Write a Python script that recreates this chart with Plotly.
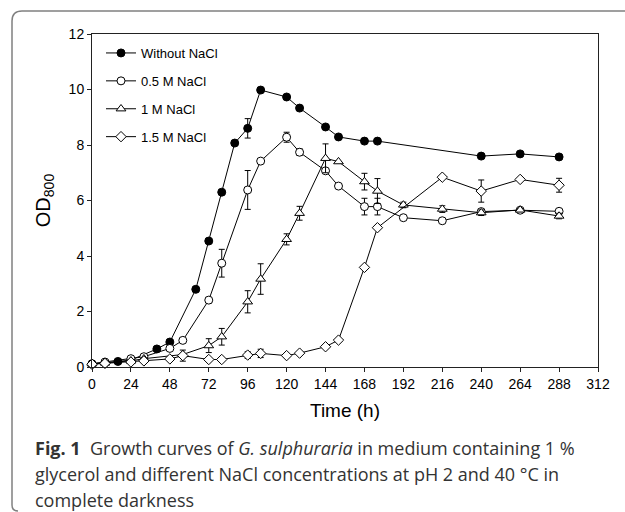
import plotly.graph_objects as go

# ---------------- data ----------------
t_ctrl = [0, 8, 16, 24, 40, 48, 64, 72, 80, 88, 96, 104, 120, 128, 144, 152, 168, 176, 240, 264, 288]
od_ctrl = [0.1, 0.15, 0.2, 0.25, 0.65, 0.9, 2.8, 4.54, 6.3, 8.07, 8.6, 9.98, 9.73, 9.33, 8.65, 8.29, 8.14, 8.14, 7.6, 7.68, 7.57]
err_ctrl = [0, 0, 0, 0, 0, 0, 0, 0, 0, 0, 0.35, 0, 0, 0, 0, 0, 0, 0, 0, 0, 0]

t_05 = [0, 8, 24, 32, 48, 56, 72, 80, 96, 104, 120, 128, 144, 152, 168, 176, 192, 216, 240, 264, 288]
od_05 = [0.12, 0.18, 0.3, 0.37, 0.67, 0.96, 2.41, 3.74, 6.38, 7.42, 8.28, 7.74, 7.07, 6.52, 5.78, 5.78, 5.38, 5.27, 5.6, 5.65, 5.61]
err_05 = [0, 0, 0, 0, 0, 0, 0.1, 0.5, 0.7, 0, 0.18, 0.12, 0, 0, 0.3, 0.3, 0, 0, 0, 0, 0]

t_1 = [0, 8, 24, 32, 56, 72, 80, 96, 104, 120, 128, 144, 152, 168, 176, 192, 216, 240, 264, 288]
od_1 = [0.12, 0.15, 0.22, 0.3, 0.45, 0.77, 1.09, 2.35, 3.17, 4.6, 5.54, 7.52, 7.4, 6.68, 6.34, 5.84, 5.69, 5.56, 5.66, 5.44]
err_1 = [0, 0, 0, 0, 0, 0.25, 0.3, 0.4, 0.55, 0.2, 0.25, 0.52, 0, 0.3, 0.45, 0.1, 0.12, 0.1, 0.05, 0.1]

t_15 = [0, 8, 24, 32, 48, 56, 72, 80, 96, 104, 120, 128, 144, 152, 168, 176, 216, 240, 264, 288]
od_15 = [0.1, 0.13, 0.18, 0.22, 0.29, 0.41, 0.27, 0.27, 0.43, 0.49, 0.41, 0.5, 0.73, 0.97, 3.59, 5.02, 6.84, 6.34, 6.76, 6.55]
err_15 = [0, 0, 0, 0, 0, 0.2, 0, 0, 0.12, 0.15, 0, 0, 0, 0, 0, 0, 0, 0.4, 0, 0.25]

series_names = ["Without NaCl", "0.5 M NaCl", "1 M NaCl", "1.5 M NaCl"]
x_ticks = list(range(0, 313, 24))
y_ticks = list(range(0, 13, 2))

# ---------------- figure ----------------
W, H = 625, 512
L, R, T, B = 92, 27, 34, 145

symbols = ["circle", "circle", "triangle-up", "diamond"]
fills = ["black", "white", "white", "white"]
sizes = [8, 8, 8.5, 8]

fig = go.Figure()
datasets = [(t_ctrl, od_ctrl, err_ctrl), (t_05, od_05, err_05), (t_1, od_1, err_1), (t_15, od_15, err_15)]
for i, ((tx, ty, te), name) in enumerate(zip(datasets, series_names)):
    fig.add_trace(go.Scatter(
        x=tx, y=ty, name=name, mode="lines+markers",
        legendgroup=name,
        line=dict(color="black", width=1),
        marker=dict(symbol=symbols[i], size=sizes[i], color=fills[i],
                    line=dict(color="black", width=1)),
        error_y=dict(type="data", array=te, visible=True, color="black", thickness=1, width=3),
        cliponaxis=False,
    ))

axis_common = dict(showline=True, linecolor="#222", linewidth=1, mirror=True,
                   ticks="outside", ticklen=4, tickcolor="#222", showgrid=False, zeroline=False,
                   tickfont=dict(family="Liberation Sans, Arial", size=14, color="black"))

fig.update_xaxes(range=[0, 312], tickvals=x_ticks,
                 title=dict(text="Time (h)", font=dict(family="Liberation Sans, Arial", size=19, color="black"), standoff=12),
                 **axis_common)
fig.update_yaxes(range=[0, 12], tickvals=y_ticks,
                 title=dict(text="OD<sub>800</sub>", font=dict(family="Liberation Sans, Arial", size=20, color="black"), standoff=12),
                 **axis_common)

def px(x):
    return (x - L) / (W - L - R)

def py(y):
    return (H - B - y) / (H - T - B)

# rounded border (open to the right, rounded at the bottom-left)
x0, y0, r = 12, 11, 10
yb = 511
path = (f"M {px(W + 5)},{py(y0)} L {px(x0 + r)},{py(y0)} "
        f"Q {px(x0)},{py(y0)} {px(x0)},{py(y0 + r)} L {px(x0)},{py(yb - 6)} "
        f"Q {px(x0)},{py(yb)} {px(x0 + 6)},{py(yb)}")
fig.add_shape(type="path", path=path, xref="paper", yref="paper",
              line=dict(color="#808080", width=1.5), layer="below")

cap_font = dict(family="Open Sans, Noto Sans", size=18, color="#333333")
lines = [
    "<b>Fig. 1</b>  Growth curves of <i>G. sulphuraria</i> in medium containing 1 %",
    "glycerol and different NaCl concentrations at pH 2 and 40 °C in",
    "complete darkness",
]
for k, txt in enumerate(lines):
    fig.add_annotation(text=txt, x=px(33), y=py(448 + 26 * k), xref="paper", yref="paper",
                       xanchor="left", yanchor="middle", showarrow=False, font=cap_font)

fig.update_layout(
    width=W, height=H,
    margin=dict(l=L, r=R, t=T, b=B),
    paper_bgcolor="white", plot_bgcolor="white",
    showlegend=True,
    legend=dict(x=px(101), y=py(38), xanchor="left", yanchor="top",
                font=dict(family="Liberation Sans, Arial", size=13, color="black"),
                bgcolor="rgba(0,0,0,0)", tracegroupgap=8, itemwidth=30),
)

fig.write_html("out.html")
